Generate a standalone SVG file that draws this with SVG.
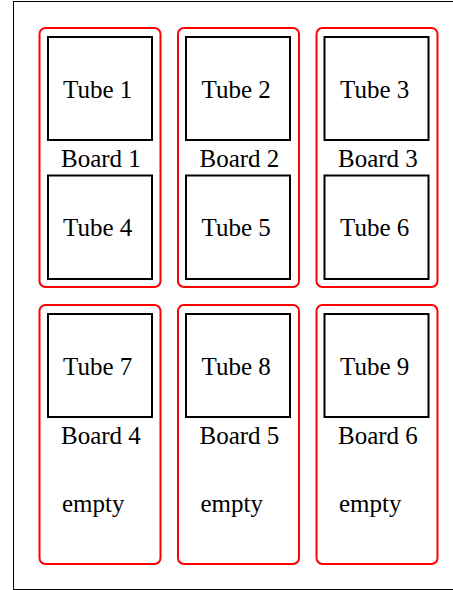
<svg xmlns="http://www.w3.org/2000/svg" width="453" height="590" viewBox="0 0 453 590">
<style>
.frame{fill:#fff;stroke:#000;stroke-width:1}
.board{fill:none;stroke:#ff0000;stroke-width:2}
.tube{fill:none;stroke:#000;stroke-width:2}
.lbl{font-family:'Liberation Serif','DejaVu Serif',serif;font-size:25px;fill:#000}
</style>
<rect class="frame" x="13.5" y="1.5" width="445" height="588"/>
<g id="board1"><rect class="board" x="39.5" y="28" width="121" height="259" rx="6"/><text class="lbl" x="61" y="167">Board 1</text></g>
<g id="board2"><rect class="board" x="178" y="28" width="121" height="259" rx="6"/><text class="lbl" x="199.5" y="167">Board 2</text></g>
<g id="board3"><rect class="board" x="316.5" y="28" width="121" height="259" rx="6"/><text class="lbl" x="338" y="167">Board 3</text></g>
<g id="board4"><rect class="board" x="39.5" y="305" width="121" height="259" rx="6"/><text class="lbl" x="61" y="444">Board 4</text><text class="lbl" x="62" y="512">empty</text></g>
<g id="board5"><rect class="board" x="178" y="305" width="121" height="259" rx="6"/><text class="lbl" x="199.5" y="444">Board 5</text><text class="lbl" x="200.5" y="512">empty</text></g>
<g id="board6"><rect class="board" x="316.5" y="305" width="121" height="259" rx="6"/><text class="lbl" x="338" y="444">Board 6</text><text class="lbl" x="339" y="512">empty</text></g>
<g id="tube1"><rect class="tube" x="48" y="37" width="104" height="103"/><text class="lbl" x="63" y="98">Tube 1</text></g>
<g id="tube2"><rect class="tube" x="186" y="37" width="104" height="103"/><text class="lbl" x="201.5" y="98">Tube 2</text></g>
<g id="tube3"><rect class="tube" x="324.5" y="37" width="104" height="103"/><text class="lbl" x="340" y="98">Tube 3</text></g>
<g id="tube4"><rect class="tube" x="48" y="175.5" width="104" height="103.5"/><text class="lbl" x="63" y="236">Tube 4</text></g>
<g id="tube5"><rect class="tube" x="186" y="175.5" width="104" height="103.5"/><text class="lbl" x="201.5" y="236">Tube 5</text></g>
<g id="tube6"><rect class="tube" x="324.5" y="175.5" width="104" height="103.5"/><text class="lbl" x="340" y="236">Tube 6</text></g>
<g id="tube7"><rect class="tube" x="48" y="314" width="104" height="103"/><text class="lbl" x="63" y="375">Tube 7</text></g>
<g id="tube8"><rect class="tube" x="186" y="314" width="104" height="103"/><text class="lbl" x="201.5" y="375">Tube 8</text></g>
<g id="tube9"><rect class="tube" x="324.5" y="314" width="104" height="103"/><text class="lbl" x="340" y="375">Tube 9</text></g>
<g id="connectors"></g>
</svg>
